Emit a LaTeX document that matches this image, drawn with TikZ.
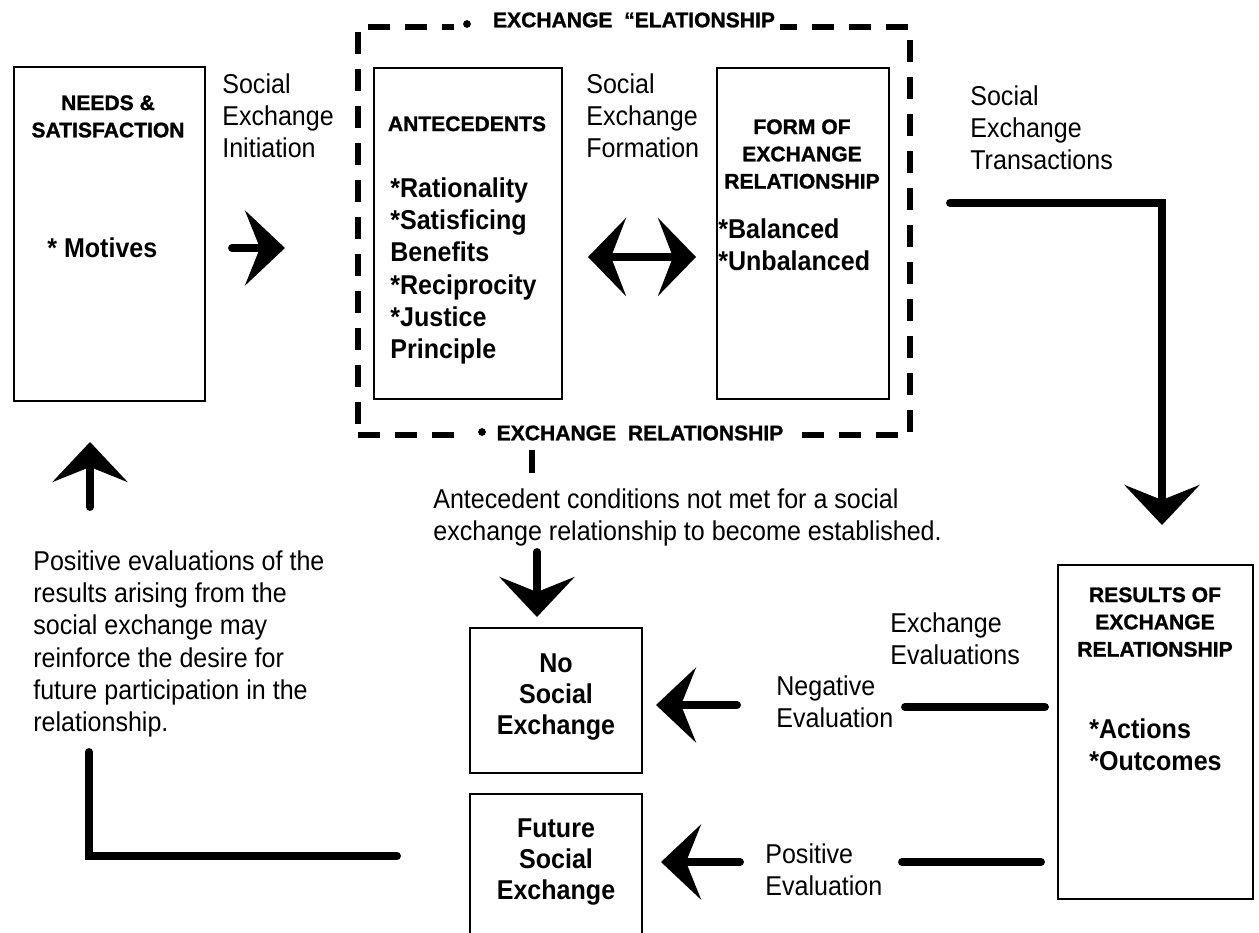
\documentclass[tikz,border=0pt]{standalone}
\usepackage{fontspec}
\setmainfont{Liberation Sans}[FakeStretch=0.92]
\newfontfamily\headfont{Liberation Sans}[BoldFeatures={FakeBold=1.2}]
\usetikzlibrary{arrows.meta}

\tikzset{
  box/.style={draw,line width=1.2pt,anchor=north west,inner sep=0pt},
  relbox/.style={draw,line width=3.4pt,dash pattern=on 0.44cm off 0.3cm,anchor=north west,inner sep=0pt},
  head/.style={font=\headfont\bfseries\fontsize{12}{15.5}\selectfont,align=center,anchor=north,inner sep=0pt},
  item/.style={font=\bfseries\fontsize{15.5}{18.4}\selectfont,align=left,anchor=north west,inner sep=0pt},
  boxtxt/.style={font=\bfseries\fontsize{15.5}{17.8}\selectfont,align=center,inner sep=0pt},
  txt/.style={font=\fontsize{15.5}{18.4}\selectfont,align=left,anchor=north west,inner sep=0pt},
  reltxt/.style={font=\headfont\bfseries\fontsize{12}{14}\selectfont,fill=white,inner xsep=3pt,inner ysep=3pt},
  flow/.style={line width=4.5pt,line cap=round,-{Stealth[length=0.8cm,width=1.5cm,inset=0.3cm]}},
  twoway/.style={line width=4.5pt,{Stealth[length=0.76cm,width=1.56cm,inset=0.3cm]}-{Stealth[length=0.76cm,width=1.56cm,inset=0.3cm]}},
  bar/.style={line width=4.5pt,line cap=round},
}

\begin{document}
\begin{tikzpicture}[x=0.02cm,y=-0.02cm]
\useasboundingbox (0,0) rectangle (1259,933);
\fill[white] (0,0) rectangle (1259,933);
\clip (0,0) rectangle (1259,933);

% needs and satisfaction
\node[box,minimum width=3.82cm,minimum height=6.68cm] (needs) at (13,66) {};
\node[head] (needshd) at (108,95) {NEEDS \&\\SATISFACTION};
\node[item,anchor=west] (motives) at (47,248) {* Motives};

\node[txt] (initiation) at (222,73) {Social\\Exchange\\Initiation};
\coordinate (ini-s) at (232,248);
\coordinate (ini-e) at (285,248);
\draw[flow] (ini-s) -- (ini-e);

% exchange relationship (dashed)
\node[relbox,minimum width=11.04cm,minimum height=8.16cm] (rel) at (355,24) {};
\fill[white] (454,14) rectangle (492,34);
\fill[white] (468,422) rectangle (496,442);
\node[reltxt] (reltop) at (634,20) {EXCHANGE\ \ “ELATIONSHIP};
\node[reltxt] (relbot) at (640,433) {EXCHANGE\ \ RELATIONSHIP};
\fill (467,24) circle (2.2pt);
\fill (482,432) circle (2.2pt);

\node[box,minimum width=3.76cm,minimum height=6.62cm] (ante) at (373,67) {};
\node[head] (antehd) at (467,116) {ANTECEDENTS};
\node[item] (anteitems) at (390,177) {*Rationality\\*Satisficing\\Benefits\\*Reciprocity\\*Justice\\Principle};

\node[txt] (formation) at (586,73) {Social\\Exchange\\Formation};
\coordinate (fm-l) at (588,257);
\coordinate (fm-r) at (696,257);
\draw[twoway] (fm-l) -- (fm-r);

\node[box,minimum width=3.44cm,minimum height=6.62cm] (form) at (716,67) {};
\node[head] (formhd) at (802,119) {FORM OF\\EXCHANGE\\RELATIONSHIP};
\node[item] (formitems) at (718,218) {*Balanced\\*Unbalanced};

% transactions
\node[txt] (transact) at (970,85) {Social\\Exchange\\Transactions};
\coordinate (tr-s) at (950,203);
\coordinate (tr-e) at (1162,525);
\draw[flow] (tr-s) -| (tr-e);

% results
\node[box,minimum width=3.9cm,minimum height=6.68cm] (results) at (1057,564) {};
\node[head] (reshd) at (1155,587) {RESULTS OF\\EXCHANGE\\RELATIONSHIP};
\node[item] (resitems) at (1089,718) {*Actions\\*Outcomes};

\node[txt] (evals) at (890,612) {Exchange\\Evaluations};
\coordinate (neg-a) at (905,707);
\coordinate (neg-b) at (1045,707);
\draw[bar] (neg-a) -- (neg-b);
\node[txt] (negtxt) at (776,675) {Negative\\Evaluation};
\coordinate (neg-s) at (737,705);
\coordinate (neg-e) at (656,705);
\draw[flow] (neg-s) -- (neg-e);

\coordinate (pos-a) at (902,862);
\coordinate (pos-b) at (1041,862);
\draw[bar] (pos-a) -- (pos-b);
\node[txt] (postxt) at (765,843) {Positive\\Evaluation};
\coordinate (pos-s) at (740,862);
\coordinate (pos-e) at (661,862);
\draw[flow] (pos-s) -- (pos-e);

% outcome boxes
\node[box,minimum width=3.44cm,minimum height=2.9cm] (nobox) at (469,627) {};
\node[boxtxt] (notxt) at (556,697) {No\\Social\\Exchange};
\node[box,minimum width=3.44cm,minimum height=3.2cm] (futbox) at (469,793) {};
\node[boxtxt] (futtxt) at (556,862) {Future\\Social\\Exchange};

% not met
\coordinate (stub-a) at (532,450);
\coordinate (stub-b) at (532,473);
\draw[line width=3.4pt] (stub-a) -- (stub-b);
\node[txt] (notmet) at (433,488) {Antecedent conditions not met for a social\\exchange relationship to become established.};
\coordinate (nm-s) at (537,552);
\coordinate (nm-e) at (537,617);
\draw[flow] (nm-s) -- (nm-e);

% feedback
\coordinate (fb-a) at (397,856);
\coordinate (fb-b) at (89,752);
\draw[bar] (fb-a) -| (fb-b);
\node[txt] (feedback) at (33,550) {Positive evaluations of the\\results arising from the\\social exchange may\\reinforce the desire for\\future participation in the\\relationship.};
\coordinate (up-s) at (90,507);
\coordinate (up-e) at (90,442);
\draw[flow] (up-s) -- (up-e);

\end{tikzpicture}
\end{document}
